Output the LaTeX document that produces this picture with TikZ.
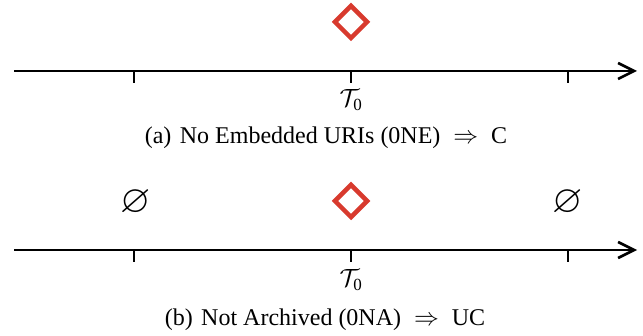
\documentclass[tikz,border=0pt]{standalone}
\usepackage{amssymb}
\usepackage{fontspec}
\setmainfont{Liberation Serif}
\usetikzlibrary{arrows.meta,shapes.geometric}
\definecolor{dred}{HTML}{D83A2E}
\begin{document}
\begin{tikzpicture}[x=1pt,y=-1pt,
  axisline/.style={line width=2.6pt,-{Straight Barb[length=16pt,width=16pt]}},
  tickmark/.style={line width=2.6pt},
  marker/.style={diamond,draw=dred,line width=4.5pt,minimum width=34pt,minimum height=34pt,inner sep=0pt},
  lbl/.style={font=\fontsize{27}{30}\selectfont,inner sep=0pt},
  captext/.style={font=\fontsize{24}{28}\selectfont,inner sep=0pt},
  empt/.style={font=\fontsize{39}{42}\selectfont,inner sep=0pt}]
\useasboundingbox (0,0) rectangle (643,336);
% (a)
\coordinate (a0) at (14,71);
\coordinate (a1) at (637,71);
\draw[axisline] (a0) -- (a1);
\foreach \x/\n in {134/l,351/m,568/r}{
  \coordinate (at\n) at (\x,71);
  \coordinate (ab\n) at (\x,83);
  \draw[tickmark] (at\n) -- (ab\n);
}
\node[marker] (da) at (351,22) {};
\node[lbl] (ta) at (351,100) {$\mathcal{T}_{\mbox{\fontsize{17}{20}\selectfont 0}}$};
\node[captext] (ca) at (326,138) {(a)\hspace{0.35em}No Embedded URIs (0NE) $\;\Rightarrow\;$ C};
% (b)
\coordinate (b0) at (14,250);
\coordinate (b1) at (637,250);
\draw[axisline] (b0) -- (b1);
\foreach \x/\n in {134/l,351/m,568/r}{
  \coordinate (bt\n) at (\x,250);
  \coordinate (bb\n) at (\x,262);
  \draw[tickmark] (bt\n) -- (bb\n);
}
\node[marker] (db) at (351,201) {};
\node[empt] (el) at (136,203) {$\varnothing$};
\node[empt] (er) at (568,203) {$\varnothing$};
\node[lbl] (tb) at (351,280) {$\mathcal{T}_{\mbox{\fontsize{17}{20}\selectfont 0}}$};
\node[captext] (cb) at (325,320) {(b)\hspace{0.35em}Not Archived (0NA) $\;\Rightarrow\;$ UC};
\end{tikzpicture}
\end{document}
